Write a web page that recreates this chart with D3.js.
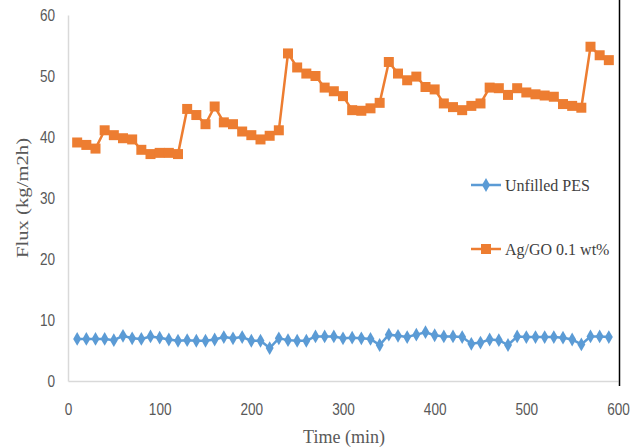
<!DOCTYPE html>
<html><head><meta charset="utf-8">
<script src="https://cdn.jsdelivr.net/npm/d3@7"></script>
<style>body{margin:0;background:#fff}svg{display:block}</style>
</head><body>
<script>
const times = d3.range(10, 600, 10);
const unfilledPES = [6.9,6.9,6.9,6.9,6.7,7.4,7.0,6.9,7.3,7.1,6.8,6.6,6.7,6.6,6.6,6.8,7.2,7.0,7.2,6.6,6.6,5.4,7.0,6.7,6.6,6.6,7.3,7.3,7.3,7.0,7.1,7.0,6.9,5.9,7.6,7.4,7.2,7.6,8.0,7.5,7.3,7.3,7.2,6.1,6.3,6.8,6.7,5.9,7.3,7.2,7.2,7.2,7.2,7.1,6.8,6.0,7.3,7.3,7.2];
const agGO = [39.1,38.7,38.1,41.1,40.3,39.8,39.6,37.9,37.2,37.4,37.4,37.2,44.6,43.6,42.1,45.0,42.4,42.1,40.9,40.3,39.6,40.2,41.1,53.7,51.4,50.4,50.0,48.1,47.5,46.7,44.4,44.3,44.7,45.6,52.3,50.4,49.3,49.9,48.2,47.8,45.5,44.9,44.4,45.1,45.5,48.1,48.0,46.9,48.0,47.3,47.0,46.8,46.6,45.4,45.1,44.8,54.8,53.4,52.6];
const xTicks = [0,100,200,300,400,500,600];
const yTicks = [0,10,20,30,40,50,60];
const seriesNames = ["Unfilled PES","Ag/GO 0.1 wt%"];
const colors = ["#5B9BD5","#ED7D31"];

const W=641,H=447;
const svg=d3.select("body").append("svg").attr("width",W).attr("height",H);
const x=d3.scaleLinear().domain([0,600]).range([68,618]);
const y=d3.scaleLinear().domain([0,60]).range([381,15]);
const serif="'Liberation Serif','Times New Roman',serif";
const sans="'Liberation Sans',Arial,sans-serif";

// axes
const xAxis=svg.append("g").attr("transform",`translate(0,${y(0)})`)
  .call(d3.axisBottom(x).tickValues(xTicks).tickSize(0).tickPadding(0));
const yAxis=svg.append("g").attr("transform",`translate(${x(0)},0)`)
  .call(d3.axisLeft(y).tickValues(yTicks).tickSize(0).tickPadding(0));
[xAxis,yAxis].forEach(g=>{
  g.select(".domain").attr("stroke","#d9d9d9").attr("stroke-width",1.5);
  g.selectAll("text").attr("fill","#595959").style("font-family",sans).style("font-size","16px");
});
xAxis.selectAll(".tick text").attr("x",null).attr("dy",null).attr("y",null)
  .attr("text-anchor","middle").attr("dominant-baseline","central")
  .attr("transform","translate(0,29) scale(0.85,1)");
yAxis.selectAll(".tick text").attr("x",null).attr("dy",null)
  .attr("text-anchor","end").attr("dominant-baseline","central")
  .attr("transform","translate(-13,0) scale(0.85,1)");

// right border
svg.append("line").attr("x1",619.5).attr("x2",619.5).attr("y1",0).attr("y2",386)
  .attr("stroke","#000").attr("stroke-width",1.5);

const data=[unfilledPES,agGO];
const line=d3.line().x((d,i)=>x(times[i])).y(d=>y(d));
const diamond=d3.symbol().type(d3.symbolDiamond).size(55);
const square=d3.symbol().type(d3.symbolSquare).size(100);

data.forEach((vals,k)=>{
  svg.append("path").datum(vals).attr("d",line).attr("fill","none")
    .attr("stroke",colors[k]).attr("stroke-width",2.5);
  svg.append("g").selectAll("path").data(vals).join("path")
    .attr("transform",(d,i)=>`translate(${x(times[i])},${y(d)})`)
    .attr("d",k===0?diamond:square).attr("fill",colors[k]);
});

// legend
const ly=[185,249];
seriesNames.forEach((n,k)=>{
  svg.append("line").attr("x1",471).attr("x2",501).attr("y1",ly[k]).attr("y2",ly[k])
    .attr("stroke",colors[k]).attr("stroke-width",2.5);
  svg.append("path").attr("transform",`translate(486,${ly[k]})`)
    .attr("d",k===0?diamond:square).attr("fill",colors[k]);
  svg.append("text").attr("x",505).attr("y",ly[k]).attr("dy","0.35em")
    .style("font-family",serif).style("font-size","16px").attr("fill","#404040").text(n);
});

// axis titles
svg.append("text").attr("x",344).attr("y",443).attr("text-anchor","middle")
  .style("font-family",serif).style("font-size","18px").attr("fill","#595959").text("Time (min)");
svg.append("text").attr("transform","translate(28,198) rotate(-90) scale(1.15,0.9)").attr("text-anchor","middle")
  .style("font-family",serif).style("font-size","18px").attr("fill","#595959").text("Flux (kg/m2h)");
</script>
</body></html>
